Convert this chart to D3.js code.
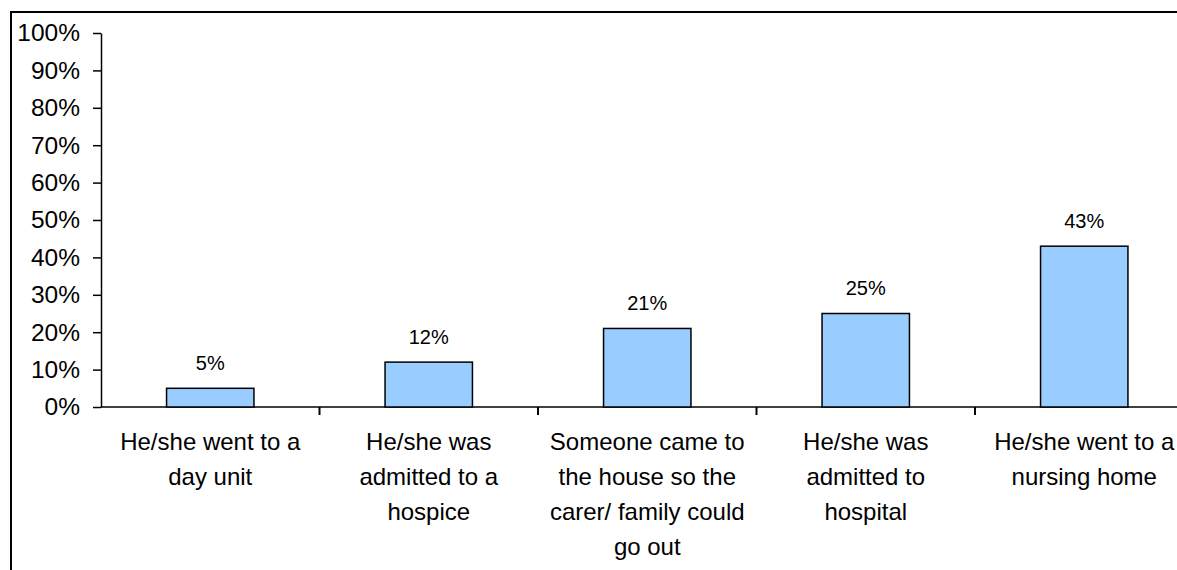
<!DOCTYPE html>
<html>
<head>
<meta charset="utf-8">
<script src="https://cdn.jsdelivr.net/npm/d3@7"></script>
<style>
  html, body { margin: 0; padding: 0; background: #fff; }
  svg { display: block; font-family: Arial, "Liberation Sans", sans-serif; }
</style>
</head>
<body>
<svg id="chart" width="1177" height="570"></svg>
<script>
// Reasons for respite: share of respondents per option
const categories = [
  "He/she went to a day unit",
  "He/she was admitted to a hospice",
  "Someone came to the house so the carer/ family could go out",
  "He/she was admitted to hospital",
  "He/she went to a nursing home"
];
const categoryLines = [
  ["He/she went to a", "day unit"],
  ["He/she was", "admitted to a", "hospice"],
  ["Someone came to", "the house so the", "carer/ family could", "go out"],
  ["He/she was", "admitted to", "hospital"],
  ["He/she went to a", "nursing home"]
];
const values = [0.05, 0.12, 0.21, 0.25, 0.43];
const yTicks = [0, 0.1, 0.2, 0.3, 0.4, 0.5, 0.6, 0.7, 0.8, 0.9, 1.0];

const svg = d3.select("#chart");

// Outer chart frame (runs past the right and bottom edges)
svg.append("rect")
  .attr("x", 11).attr("y", 12)
  .attr("width", 1300).attr("height", 700)
  .attr("fill", "#fff")
  .attr("stroke", "#000")
  .attr("stroke-width", 2);

const plotLeft = 101, plotTop = 33, plotBottom = 407;
const step = 218.5;

const x = d3.scaleBand()
  .domain(categories)
  .range([plotLeft, plotLeft + step * categories.length])
  .padding(0);

const y = d3.scaleLinear()
  .domain([0, 1])
  .range([plotBottom, plotTop]);

const fmt = d3.format(".0%");

// Y axis
const yAxis = d3.axisLeft(y)
  .tickValues(yTicks)
  .tickFormat(fmt)
  .tickSize(8)
  .tickSizeOuter(0)
  .tickPadding(13);

const gy = svg.append("g")
  .attr("transform", `translate(${plotLeft},0)`)
  .call(yAxis);
gy.select(".domain").attr("stroke", "#000").attr("stroke-width", 1.5);
gy.selectAll(".tick line").attr("stroke", "#000").attr("stroke-width", 1.5);
gy.selectAll(".tick text")
  .attr("fill", "#000")
  .style("font-size", "24.5px")
  .style("font-family", "Arial, 'Liberation Sans', sans-serif");

// X axis line with category dividers
svg.append("line")
  .attr("x1", plotLeft).attr("x2", plotLeft + step * categories.length)
  .attr("y1", plotBottom).attr("y2", plotBottom)
  .attr("stroke", "#000").attr("stroke-width", 1.5);

const dividers = d3.range(categories.length + 1).map(i => plotLeft + step * i);
svg.append("g").selectAll("line")
  .data(dividers.slice(1))
  .join("line")
  .attr("x1", d => d).attr("x2", d => d)
  .attr("y1", plotBottom).attr("y2", plotBottom + 8)
  .attr("stroke", "#000").attr("stroke-width", 2);

// Bars
const barW = x.bandwidth() * 0.4;
svg.append("g").selectAll("rect")
  .data(values)
  .join("rect")
  .attr("x", (d, i) => x(categories[i]) + (x.bandwidth() - barW) / 2)
  .attr("y", d => y(d))
  .attr("width", barW)
  .attr("height", d => y(0) - y(d))
  .attr("fill", "#99CCFF")
  .attr("stroke", "#000")
  .attr("stroke-width", 1.5);

// Value labels
svg.append("g").selectAll("text")
  .data(values)
  .join("text")
  .attr("x", (d, i) => x(categories[i]) + x.bandwidth() / 2)
  .attr("y", d => y(d) - 18.5)
  .attr("text-anchor", "middle")
  .attr("fill", "#000")
  .style("font-size", "20px")
  .text(d => fmt(d));

// Category labels (wrapped)
const catG = svg.append("g");
categoryLines.forEach((lines, i) => {
  const cx = x(categories[i]) + x.bandwidth() / 2;
  const t = catG.append("text")
    .attr("x", cx)
    .attr("y", 450)
    .attr("text-anchor", "middle")
    .attr("fill", "#000")
    .style("font-size", "24px");
  lines.forEach((ln, j) => {
    t.append("tspan")
      .attr("x", cx)
      .attr("dy", j === 0 ? 0 : 35)
      .text(ln);
  });
});
</script>
</body>
</html>
